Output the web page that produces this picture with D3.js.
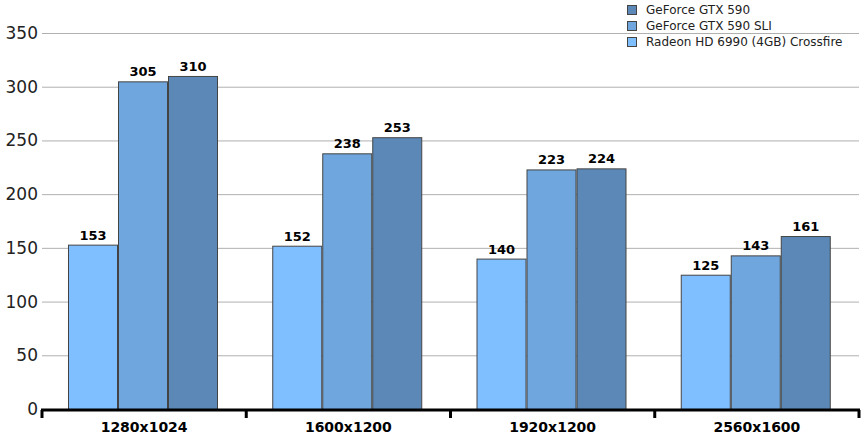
<!DOCTYPE html><html><head><script src="https://cdn.jsdelivr.net/npm/d3@7"></script>
<style>body{margin:0;background:#fff}text{font-family:"DejaVu Sans",Verdana,sans-serif}</style></head><body><svg id="c" width="867" height="444"></svg>
<script>
const categories=["1280x1024","1600x1200","1920x1200","2560x1600"];
const seriesNames=["Radeon HD 6990 (4GB) Crossfire","GeForce GTX 590 SLI","GeForce GTX 590"];
const radeon=[153,152,140,125];
const sli=[305,238,223,143];
const gtx=[310,253,224,161];
const yTicks=[0,50,100,150,200,250,300,350];
const colors=["#80bfff","#6fa6de","#5b88b6"];
const series=[radeon,sli,gtx];
const svg=d3.select("#c");
const x=d3.scaleBand().domain(categories).range([42,859]).paddingInner(0).paddingOuter(0);
const y=d3.scaleLinear().domain([0,350]).range([409,33]);
const xi=d3.scaleBand().domain([0,1,2]).range([26,176]);
svg.append("g").selectAll("line").data(yTicks.slice(1)).join("line")
 .attr("x1",42).attr("x2",859).attr("y1",d=>y(d)+.5).attr("y2",d=>y(d)+.5).attr("stroke","#b0b0b0");
svg.append("g").selectAll("text").data(yTicks).join("text").attr("x",38).attr("y",d=>y(d)+6)
 .attr("text-anchor","end").attr("font-size",17).attr("fill","#222").text(d=>d);
series.forEach((s,si)=>{
 const g=svg.append("g");
 g.selectAll("rect").data(s).join("rect").attr("x",(d,i)=>x(categories[i])+xi(si)+.5).attr("y",d=>y(d)+.5)
  .attr("width",xi.bandwidth()-1).attr("height",d=>409-y(d)).attr("fill",colors[si]).attr("stroke","#444").attr("stroke-width",1);
 g.selectAll("text").data(s).join("text").attr("x",(d,i)=>x(categories[i])+xi(si)+xi.bandwidth()/2).attr("y",d=>y(d)-5)
  .attr("text-anchor","middle").attr("font-size",13).attr("font-weight","bold").text(d=>d);
});
const ax=svg.append("g").attr("transform","translate(0,410)");
ax.append("line").attr("x1",41).attr("x2",860).attr("stroke","#000").attr("stroke-width",3);
const tickX=categories.map(c=>x(c)).concat([859]);
ax.selectAll(".t").data(tickX).join("line").attr("class","t").attr("x1",d=>d).attr("x2",d=>d).attr("y1",0).attr("y2",8).attr("stroke","#000").attr("stroke-width",3);
ax.selectAll("text").data(categories).join("text").attr("x",d=>x(d)+x.bandwidth()/2).attr("y",22)
 .attr("text-anchor","middle").attr("font-size",14).attr("font-weight","bold").text(d=>d);
const leg=svg.append("g");
[2,1,0].forEach((si,k)=>{
 leg.append("rect").attr("x",627.5).attr("y",5.5+k*16).attr("width",9).attr("height",9).attr("fill",colors[si]).attr("stroke","#444");
 leg.append("text").attr("x",646).attr("y",14+k*16).attr("font-size",12).attr("fill","#222").text(seriesNames[si]);
});
</script></body></html>
